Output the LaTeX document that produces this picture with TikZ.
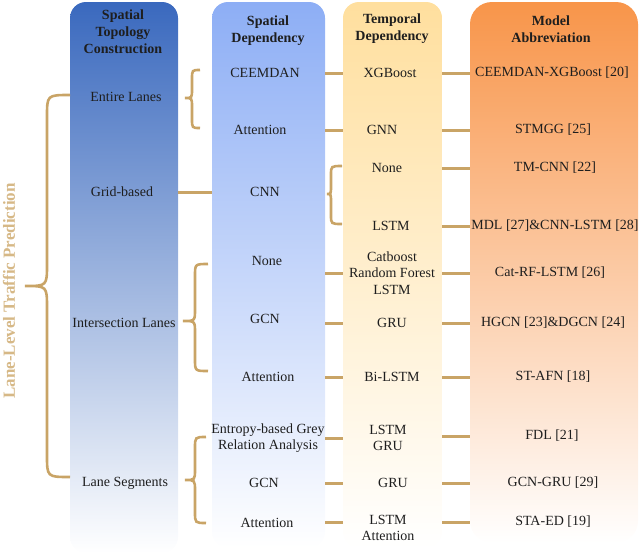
\documentclass[tikz,border=0pt]{standalone}
\usepackage{fontspec}
\setmainfont{Liberation Serif}
\definecolor{cA}{HTML}{3A69BE}
\definecolor{cB}{HTML}{8DAEF5}
\definecolor{cC}{HTML}{FFDF9E}
\definecolor{cD}{HTML}{F8954A}
\definecolor{gold}{HTML}{C9A466}
\definecolor{goldtxt}{HTML}{D6B886}
\definecolor{txt}{HTML}{1E1E1E}
\newcommand\mybrace[7]{% xr, xs, xc, yt, ym, yb, r
  \draw[brc] (#1,#4) .. controls (#2,#4) .. (#2,{#4+#7}) -- (#2,{#5-#7})
    .. controls (#2,#5) .. (#3,#5) .. controls (#2,#5) .. (#2,{#5+#7})
    -- (#2,{#6-#7}) .. controls (#2,#6) .. (#1,#6);}
\begin{document}
\begin{tikzpicture}[x=1pt,y=-1pt,
  colbox/.style={inner sep=0, rounded corners=16pt, bottom color=white},
  lbl/.style={font=\fontsize{14}{16.5}\selectfont, text=txt, align=center, inner sep=0},
  hdr/.style={lbl, font=\fontsize{14}{17}\selectfont\bfseries},
  conn/.style={draw=gold, line width=3pt},
  brc/.style={draw=gold, line width=2.6pt}]
\useasboundingbox (0,0) rectangle (640,558);
% columns
\node[colbox, top color=cA, minimum width=108pt, minimum height=551pt] (c1) at (124,277.5) {};
\node[colbox, top color=cB, minimum width=113pt, minimum height=546pt] (c2) at (268.5,275) {};
\node[colbox, top color=cC, minimum width=99pt, minimum height=546pt] (c3) at (392.5,275) {};
\node[colbox, rounded corners=22pt, top color=cD, minimum width=168pt, minimum height=541pt] (c4) at (554,272.5) {};
% headers
\node[hdr] (h1) at (123,32) {Spatial\\Topology\\Construction};
\node[hdr] (h2) at (268,31) {Spatial\\Dependency};
\node[hdr] (h3) at (392,29) {Temporal\\Dependency};
\node[hdr] (h4) at (551,29) {Model\\Abbreviation};
% column 1
\node[lbl] (a1) at (126,97) {Entire Lanes};
\node[lbl] (a2) at (122,192) {Grid-based};
\node[lbl] (a3) at (124,323) {Intersection Lanes};
\node[lbl] (a4) at (125,483) {Lane Segments};
% column 2
\node[lbl] (s1) at (265,73) {CEEMDAN};
\node[lbl] (s2) at (260,130) {Attention};
\node[lbl] (s3) at (265,192) {CNN};
\node[lbl] (s4) at (267,261) {None};
\node[lbl] (s5) at (265,319) {GCN};
\node[lbl] (s6) at (268,377) {Attention};
\node[lbl, font=\fontsize{14}{16}\selectfont] (s7) at (268,438) {Entropy-based Grey\\Relation Analysis};
\node[lbl] (s8) at (264,483) {GCN};
\node[lbl] (s9) at (267,523) {Attention};
% column 3
\node[lbl] (t1) at (390,73) {XGBoost};
\node[lbl] (t2) at (382,130) {GNN};
\node[lbl] (t3) at (387,168) {None};
\node[lbl] (t4) at (391,226) {LSTM};
\node[lbl, font=\fontsize{14}{16.5}\selectfont] (t5) at (392,273) {Catboost\\Random Forest\\LSTM};
\node[lbl] (t6) at (392,323) {GRU};
\node[lbl] (t7) at (392,377) {Bi-LSTM};
\node[lbl, font=\fontsize{14}{16.5}\selectfont] (t8) at (388,438) {LSTM\\GRU};
\node[lbl] (t9) at (393,483) {GRU};
\node[lbl, font=\fontsize{14}{16.5}\selectfont] (t10) at (388,528) {LSTM\\Attention};
% column 4
\node[lbl] (m1) at (552,73) {CEEMDAN-XGBoost [20]};
\node[lbl] (m2) at (553,130) {STMGG [25]};
\node[lbl] (m3) at (555,168) {TM-CNN [22]};
\node[lbl] (m4) at (555,226) {MDL [27]\&CNN-LSTM [28]};
\node[lbl] (m5) at (550,273) {Cat-RF-LSTM [26]};
\node[lbl] (m6) at (553,323) {HGCN [23]\&DGCN [24]};
\node[lbl] (m7) at (553,377) {ST-AFN [18]};
\node[lbl] (m8) at (552,436) {FDL [21]};
\node[lbl] (m9) at (553,483) {GCN-GRU [29]};
\node[lbl] (m10) at (553,522) {STA-ED [19]};
% rotated title
\node[font=\fontsize{17}{17}\selectfont\bfseries, text=goldtxt, rotate=90, inner sep=0] (ttl) at (9,291) {Lane-Level Traffic Prediction};
% big brace
\mybrace{70}{47}{25}{95}{286}{477}{22}
% small braces
\mybrace{200}{192}{185}{70}{98}{128}{9}
\mybrace{208}{195}{183}{264}{321}{371}{12}
\mybrace{206}{195}{185}{437}{480}{523}{11}
\mybrace{342}{331}{327}{166}{194}{224}{9}
% col1 -> col2
\draw[conn] (c1.east |- a2) -- (c2.west |- s3);
% col2 -> col3
\draw[conn] (c2.east |- s1) -- (c3.west |- t1);
\draw[conn] (c2.east |- s2) -- (c3.west |- t2);
\draw[conn] (c2.east |- t5) -- (c3.west |- t5);
\draw[conn] (c2.east |- t6) -- (c3.west |- t6);
\draw[conn] (c2.east |- s6) -- (c3.west |- t7);
\draw[conn] (c2.east |- s7) -- (c3.west |- t8);
\draw[conn] (c2.east |- s8) -- (c3.west |- t9);
\draw[conn] (c2.east |- m10) -- (c3.west |- m10);
% col3 -> col4
\draw[conn] (c3.east |- t1) -- (c4.west |- m1);
\draw[conn] (c3.east |- t2) -- (c4.west |- m2);
\draw[conn] (c3.east |- t3) -- (c4.west |- m3);
\draw[conn] (c3.east |- t4) -- (c4.west |- m4);
\draw[conn] (c3.east |- t5) -- (c4.west |- m5);
\draw[conn] (c3.east |- t6) -- (c4.west |- m6);
\draw[conn] (c3.east |- t7) -- (c4.west |- m7);
\draw[conn] (c3.east |- m8) -- (c4.west |- m8);
\draw[conn] (c3.east |- t9) -- (c4.west |- m9);
\draw[conn] (c3.east |- m10) -- (c4.west |- m10);
\end{tikzpicture}
\end{document}
